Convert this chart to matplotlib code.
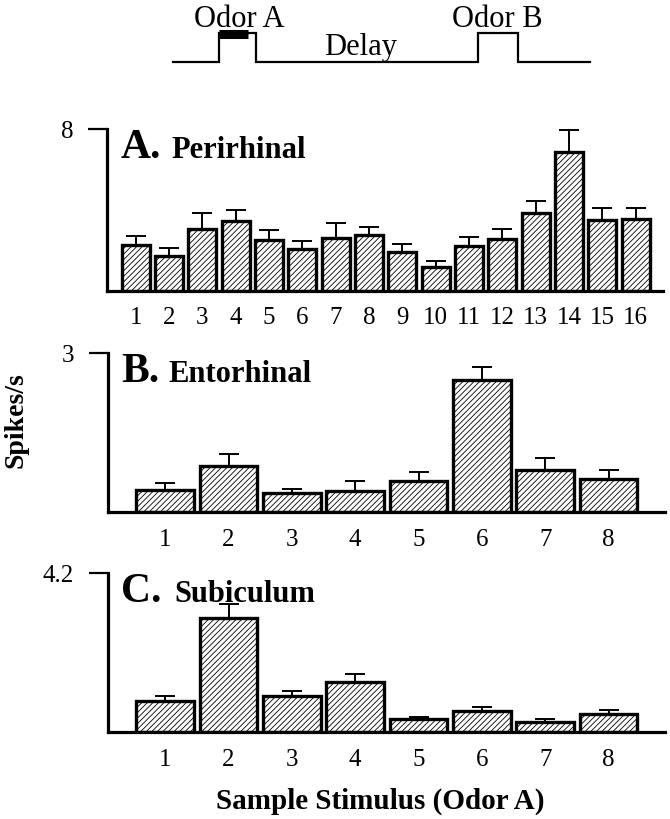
import matplotlib
matplotlib.use("Agg")
import matplotlib.pyplot as plt
import numpy as np

plt.rcParams['font.family'] = ['Liberation Serif', 'DejaVu Serif']
plt.rcParams['hatch.linewidth'] = 0.6

# panel A - perirhinal (16 stimuli)
peri_stim = list(range(1, 17))
peri_mean = [2.27, 1.73, 3.07, 3.47, 2.52, 2.06, 2.59, 2.77, 1.91, 1.19, 2.19, 2.56, 3.85, 6.84, 3.48, 3.53]
peri_sem = [0.45, 0.38, 0.75, 0.54, 0.50, 0.40, 0.76, 0.40, 0.38, 0.29, 0.45, 0.47, 0.58, 1.10, 0.60, 0.58]

# panel B - entorhinal (8 stimuli)
ento_stim = list(range(1, 9))
ento_mean = [0.41, 0.87, 0.35, 0.40, 0.58, 2.49, 0.80, 0.63]
ento_sem = [0.13, 0.22, 0.09, 0.18, 0.17, 0.25, 0.21, 0.17]

# panel C - subiculum (8 stimuli)
subi_stim = list(range(1, 9))
subi_mean = [0.83, 3.01, 0.94, 1.33, 0.34, 0.56, 0.26, 0.48]
subi_sem = [0.13, 0.37, 0.15, 0.21, 0.07, 0.11, 0.08, 0.11]

W, H = 670, 819
fig = plt.figure(figsize=(W / 100, H / 100), dpi=100)


def px_box(left, right, top, bottom):
    return [left / W, 1 - bottom / H, (right - left) / W, (bottom - top) / H]


def panel(box, stim, mean, sem, ytop, ytxt, xlim, width, letter, name, name_dx):
    ax = fig.add_axes(box)
    ax.bar(stim, mean, width=width, color='white', edgecolor='black',
           linewidth=2.4, hatch='//////', zorder=2)
    ax.errorbar(stim, mean, yerr=[np.zeros(len(sem)), sem], fmt='none',
                ecolor='black', elinewidth=1.4, capsize=7.5, capthick=1.4,
                zorder=1, clip_on=False)
    ax.set_xlim(*xlim)
    ax.set_ylim(0, ytop)
    ax.set_yticks([ytop])
    ax.set_yticklabels([ytxt])
    ax.set_xticks(stim)
    ax.set_xticklabels([str(s) for s in stim])
    for s in ['top', 'right']:
        ax.spines[s].set_visible(False)
    for s in ['left', 'bottom']:
        ax.spines[s].set_linewidth(2.3)
    ax.tick_params(axis='y', length=14, width=1.6, pad=10, labelsize=18)
    ax.tick_params(axis='x', length=0, pad=12, labelsize=18)
    hpx = box[3] * H
    yb = 1 - 28.5 / hpx
    ax.text(0.025, yb, letter, transform=ax.transAxes, fontsize=30,
            fontweight='bold', va='baseline', ha='left')
    ax.text(name_dx, yb, name, transform=ax.transAxes, fontsize=22,
            fontweight='bold', va='baseline', ha='left')
    return ax


panel(px_box(106.5, 663, 129, 290.7), peri_stim, peri_mean, peri_sem, 8, '8',
      (0.12, 16.82), 0.84, 'A.', 'Perirhinal', 0.117)
panel(px_box(107.5, 665, 353, 512), ento_stim, ento_mean, ento_sem, 3, '3',
      (0.09, 8.89), 0.91, 'B.', 'Entorhinal', 0.11)
panel(px_box(107.5, 665, 573.3, 732), subi_stim, subi_mean, subi_sem, 4.2, '4.2',
      (0.09, 8.89), 0.91, 'C.', 'Subiculum', 0.12)

# trial schematic on top
ax0 = fig.add_axes([0, 1 - 80 / H, 1, 80 / H])
ax0.set_xlim(0, W)
ax0.set_ylim(80, 0)
ax0.axis('off')
trace_x = [172.7, 219.3, 219.3, 255.7, 255.7, 478.3, 478.3, 518.3, 518.3, 590]
trace_y = [61.7, 61.7, 33.3, 33.3, 61.7, 61.7, 33.3, 33.3, 61.7, 61.7]
ax0.plot(trace_x, trace_y, color='black', linewidth=1.6, solid_joinstyle='miter')
ax0.plot([218.5, 248], [34, 34], color='black', linewidth=6.5, solid_capstyle='butt')
ax0.text(239, 27, 'Odor A', fontsize=22, ha='center', va='baseline')
ax0.text(361, 55, 'Delay', fontsize=22, ha='center', va='baseline')
ax0.text(497, 27, 'Odor B', fontsize=22, ha='center', va='baseline')

fig.text(16 / W, 1 - 420 / H, 'Spikes/s', rotation=90, fontsize=20,
         fontweight='bold', ha='center', va='center')
fig.text(380 / W, 1 - 801 / H, 'Sample Stimulus (Odor A)', fontsize=21,
         fontweight='bold', ha='center', va='center')

fig.savefig('out.png', dpi=100)
